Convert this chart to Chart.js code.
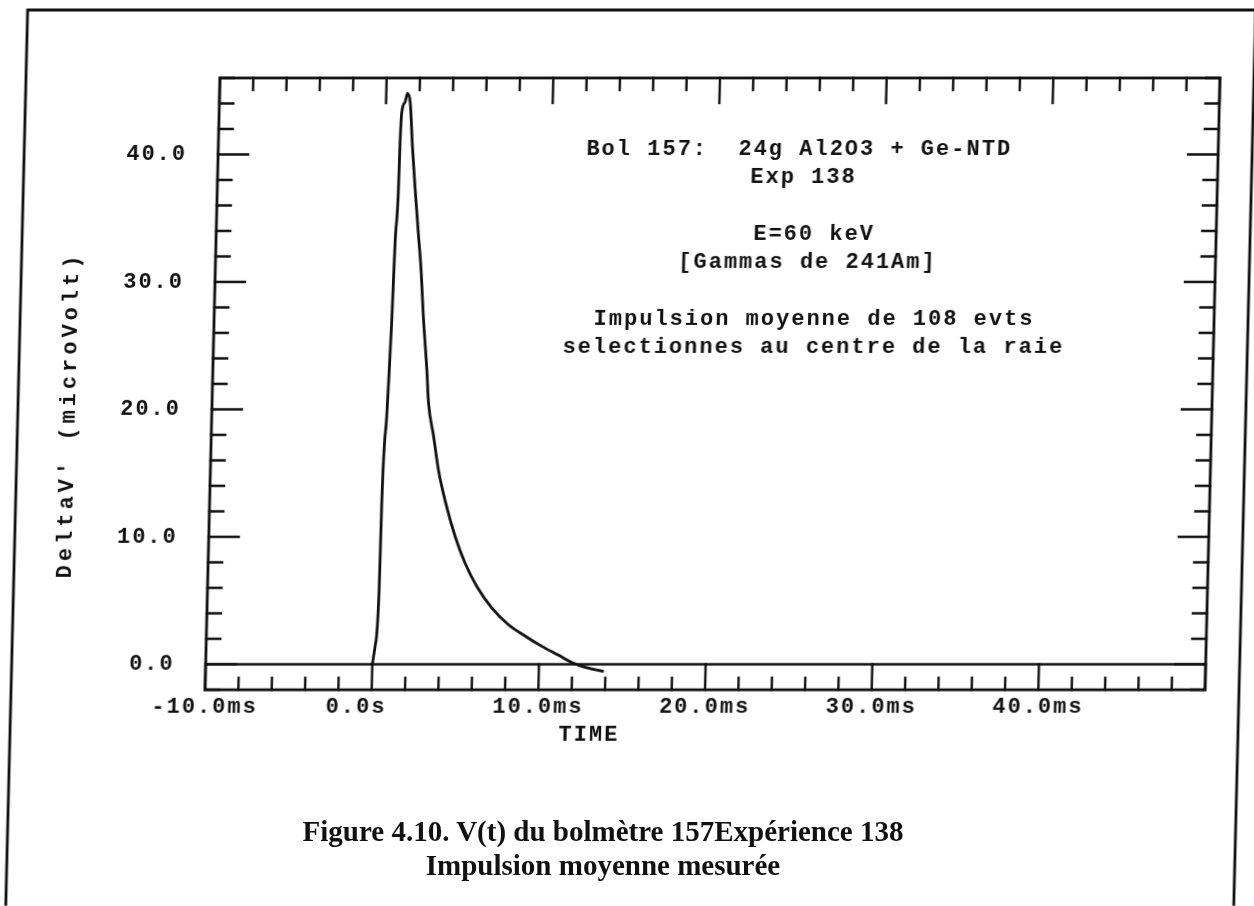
<!DOCTYPE html>
<html lang="fr">
<head>
<meta charset="utf-8">
<title>Impulsion moyenne mesurée</title>
<script src="https://cdn.jsdelivr.net/npm/chart.js@4.4.1/dist/chart.umd.min.js"></script>
<style>
  html, body { margin: 0; padding: 0; background: #fff; }
  #page { position: relative; width: 1254px; height: 906px; overflow: hidden; background: #fff; }
  /* the plotter sheet is slightly sheared */
  #plot { position: absolute; left: 0; top: 0; transform: skewX(-1.4deg); transform-origin: 0 691px; }
  .caption { position: absolute; left: 0; width: 1206px; text-align: center; font-weight: bold;
             font-family: 'Liberation Serif', 'Times New Roman', serif; font-size: 29px; color: #111; }
</style>
</head>
<body>
<div id="page">
  <div id="plot"><canvas id="pulse" width="1254" height="906"></canvas></div>
  <div class="caption" style="top: 815px">Figure 4.10. V(t) du bolmètre 157Expérience 138</div>
  <div class="caption" style="top: 849px">Impulsion moyenne mesurée</div>
</div>
<script>
// averaged pulse, time in ms, amplitude in microvolt
const timeMs = [0.0, 0.14, 0.30, 0.33, 0.50, 0.58, 0.66, 0.75, 0.87, 0.90, 0.96, 1.14, 1.27,
  1.45, 1.65, 1.88, 2.13, 2.33, 2.57, 2.84, 2.99, 3.34, 3.69, 4.18, 4.79, 5.43, 6.16,
  7.10, 8.12, 9.15, 10.16, 11.18, 11.98, 12.80, 13.90];
const deltaV = [0.0, 1.4, 5.8, 12.6, 19.4, 22.9, 26.8, 33.1, 37.2, 40.9, 43.3, 44.1, 44.8,
  44.1, 40.6, 37.2, 33.8, 31.2, 27.0, 23.1, 20.5, 17.9, 15.2, 12.6, 10.0, 7.9, 6.1,
  4.4, 3.1, 2.2, 1.4, 0.7, 0.14, -0.25, -0.56];

const xTicks = [-10, 0, 10, 20, 30, 40, 50];
const xTickLabels = ['-10.0ms', '0.0s  ', '10.0ms', '20.0ms', '30.0ms', '40.0ms', ''];
const yTicks = [0, 10, 20, 30, 40];
const yTickLabels = ['0.0', '10.0', '20.0', '30.0', '40.0'];

const infoLines = [
  'Bol 157:  24g Al2O3 + Ge-NTD',
  'Exp 138',
  'E=60 keV',
  '[Gammas de 241Am]',
  'Impulsion moyenne de 108 evts',
  'selectionnes au centre de la raie'
];

const INK = '#111';
const MONO = 'bold 22px "Liberation Mono", "DejaVu Sans Mono", monospace';
const SPACING = '2px';

// where the info block lines sit (centre x, centre y)
const infoPos = [[786, 149], [791, 177], [803, 234], [797, 262], [805, 319], [805, 347]];

function drawTicks(ctx, a, x, y) {
  const y0 = y.getPixelForValue(0);
  ctx.lineWidth = 2.4;
  ctx.beginPath();
  // time axis: minor every 2 ms, major every 10 ms (bottom ones reach the zero line)
  for (let i = 0; i <= (x.max - x.min) / 2; i++) {
    const t = x.min + i * 2;
    const px = x.getPixelForValue(t);
    const major = t % 10 === 0;
    ctx.moveTo(px, a.top);
    ctx.lineTo(px, a.top + (major ? 25 : 12));
    ctx.moveTo(px, a.bottom);
    ctx.lineTo(px, major ? y0 : a.bottom - 12);
  }
  // amplitude axis: minor every 2, major every 10
  for (let v = Math.ceil(y.min / 2) * 2; v <= y.max; v += 2) {
    const py = y.getPixelForValue(v);
    const len = v % 10 === 0 ? 30 : 14;
    ctx.moveTo(a.left, py);
    ctx.lineTo(a.left + len, py);
    ctx.moveTo(a.right, py);
    ctx.lineTo(a.right - len, py);
  }
  ctx.stroke();
}

const plotterFrame = {
  id: 'plotterFrame',
  beforeDraw(chart) {
    chart.ctx.letterSpacing = SPACING;
  },
  beforeDatasetsDraw(chart) {
    const { ctx, chartArea: a, scales: { x, y } } = chart;
    ctx.save();
    ctx.strokeStyle = INK;
    ctx.lineCap = 'square';

    // sheet border, open at the bottom
    ctx.lineWidth = 2.8;
    ctx.beginPath();
    ctx.moveTo(11, 940);
    ctx.lineTo(11, 10);
    ctx.lineTo(1239, 10);
    ctx.lineTo(1239, 940);
    ctx.stroke();

    // plot box and zero line
    ctx.strokeRect(a.left, a.top, a.right - a.left, a.bottom - a.top);
    const y0 = y.getPixelForValue(0);
    ctx.lineWidth = 2.4;
    ctx.beginPath();
    ctx.moveTo(a.left, y0);
    ctx.lineTo(a.right, y0);
    ctx.stroke();

    drawTicks(ctx, a, x, y);
    ctx.restore();
  },
  afterDraw(chart) {
    const { ctx } = chart;
    ctx.save();
    ctx.letterSpacing = SPACING;
    ctx.fillStyle = INK;
    ctx.font = MONO;
    ctx.textAlign = 'center';
    ctx.textBaseline = 'middle';

    infoLines.forEach((line, i) => ctx.fillText(line, infoPos[i][0], infoPos[i][1]));

    // axis titles
    ctx.fillText('TIME', 590, 735);
    ctx.letterSpacing = '4px';
    ctx.translate(62, 415);
    ctx.rotate(-Math.PI / 2);
    ctx.fillText("DeltaV' (microVolt)", 0, 0);
    ctx.restore();
  }
};

const tickFont = { family: '"Liberation Mono", "DejaVu Sans Mono", monospace', size: 22, weight: 'bold' };

new Chart(document.getElementById('pulse'), {
  type: 'scatter',
  data: {
    datasets: [{
      data: timeMs.map((t, i) => ({ x: t, y: deltaV[i] })),
      showLine: true,
      borderColor: INK,
      borderWidth: 2.8,
      pointRadius: 0,
      cubicInterpolationMode: 'monotone'
    }]
  },
  options: {
    responsive: false,
    animation: false,
    layout: { padding: { left: 25, right: 49, top: 78, bottom: 156 } },
    plugins: { legend: { display: false }, tooltip: { enabled: false } },
    scales: {
      x: {
        type: 'linear',
        min: -10,
        max: 50,
        afterBuildTicks: s => { s.ticks = xTicks.map(v => ({ value: v })); },
        afterFit: s => { s.height = 60; },
        grid: { display: false, drawTicks: false },
        border: { display: false },
        ticks: {
          autoSkip: false,
          maxRotation: 0,
          padding: 4,
          color: INK,
          font: tickFont,
          callback: v => xTickLabels[xTicks.indexOf(v)]
        }
      },
      y: {
        type: 'linear',
        min: -2,
        max: 46,
        afterBuildTicks: s => { s.ticks = yTicks.map(v => ({ value: v })); },
        afterFit: s => { s.width = 180; },
        grid: { display: false, drawTicks: false },
        border: { display: false },
        ticks: {
          padding: 31,
          color: INK,
          font: tickFont,
          callback: v => yTickLabels[yTicks.indexOf(v)]
        }
      }
    }
  },
  plugins: [plotterFrame]
});
</script>
</body>
</html>
